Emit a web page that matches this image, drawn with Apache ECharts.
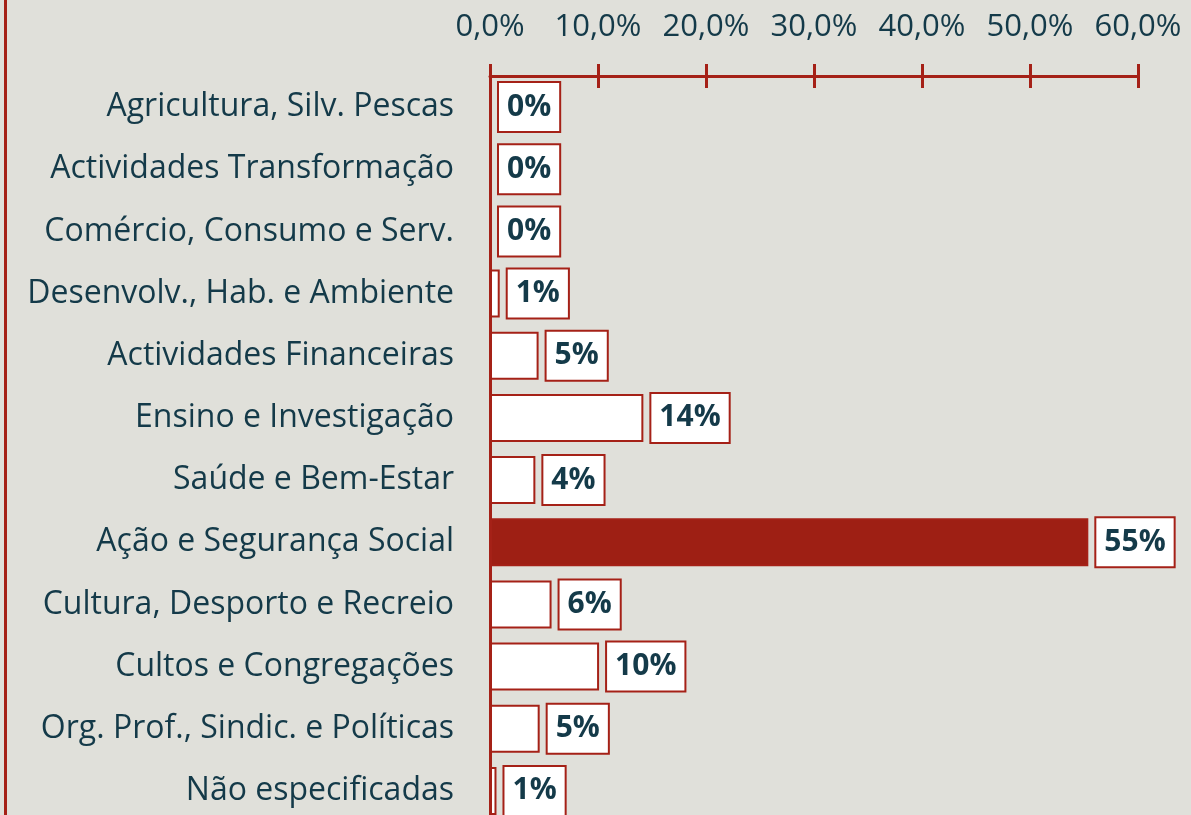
<!DOCTYPE html>
<html>
<head>
    <meta charset="utf-8">
    <title>ECharts</title>
    <script src="https://cdn.jsdelivr.net/npm/echarts@6/dist/echarts.min.js"></script>
    <style>
        html, body { margin: 0; padding: 0; background: #e0e0da; }
    </style>
</head>
<body>
    <div id="main" style="width: 1191px;height:815px;"></div>
    <script type="text/javascript">
        // categorias (de cima para baixo)
        var categories = [
            'Agricultura, Silv. Pescas',
            'Actividades Transformação',
            'Comércio, Consumo e Serv.',
            'Desenvolv., Hab. e Ambiente',
            'Actividades Financeiras',
            'Ensino e Investigação',
            'Saúde e Bem-Estar',
            'Ação e Segurança Social',
            'Cultura, Desporto e Recreio',
            'Cultos e Congregações',
            'Org. Prof., Sindic. e Políticas',
            'Não especificadas'
        ];
        // percentagens
        var values = [0, 0, 0, 0.9, 4.5, 14.2, 4.2, 55.4, 5.7, 10.1, 4.6, 0.6];
        var labels = ['0%', '0%', '0%', '1%', '5%', '14%', '4%', '55%', '6%', '10%', '5%', '1%'];
        var xTicks = [0, 10, 20, 30, 40, 50, 60];
        var highlight = 'Ação e Segurança Social';

        var red = '#a52117';
        var ink = '#143a49';
        var font = '"Open Sans", sans-serif';

        var myChart = echarts.init(document.getElementById('main'));

        var seriesData = values.map(function (v, i) {
            return {
                value: v,
                itemStyle: {
                    color: categories[i] === highlight ? '#9e1f14' : '#ffffff'
                }
            };
        });

        var option = {
            backgroundColor: '#e0e0da',
            animation: false,
            grid: { left: 490, right: 53, top: 76, height: 746, outerBoundsMode: 'none' },
            graphic: [{
                type: 'rect',
                shape: { x: 4, y: 0, width: 3, height: 815 },
                style: { fill: red }
            }],
            xAxis: [{
                type: 'value',
                position: 'top',
                min: xTicks[0],
                max: xTicks[xTicks.length - 1],
                interval: 10,
                splitLine: { show: false },
                axisLine: { show: true, lineStyle: { color: red, width: 3 } },
                axisTick: { show: true, length: 12, lineStyle: { color: red, width: 3 } },
                axisLabel: {
                    margin: 33,
                    fontSize: 31,
                    fontFamily: font,
                    color: ink,
                    formatter: function (v) { return v.toFixed(1).replace('.', ',') + '%'; }
                }
            }, {
                // ticks para baixo (atravessam a linha do eixo)
                type: 'value',
                position: 'top',
                min: xTicks[0],
                max: xTicks[xTicks.length - 1],
                interval: 10,
                splitLine: { show: false },
                axisLine: { show: false },
                axisTick: { show: true, inside: true, length: 12, lineStyle: { color: red, width: 3 } },
                axisLabel: { show: false }
            }],
            yAxis: {
                type: 'category',
                inverse: true,
                data: categories,
                axisLine: { show: true, lineStyle: { color: red, width: 3 } },
                axisTick: { show: false },
                axisLabel: {
                    margin: 36,
                    fontSize: 32,
                    fontFamily: font,
                    color: ink
                }
            },
            series: [{
                type: 'bar',
                barWidth: 48,
                data: seriesData,
                itemStyle: { borderColor: red, borderWidth: 2 },
                label: {
                    show: true,
                    position: 'right',
                    distance: 8,
                    fontSize: 30,
                    fontWeight: 'bold',
                    fontFamily: font,
                    color: ink,
                    backgroundColor: '#ffffff',
                    borderColor: red,
                    borderWidth: 2,
                    padding: [10, 8, 8, 8],
                    formatter: function (p) { return labels[p.dataIndex]; }
                }
            }]
        };

        myChart.setOption(option);
    </script>
</body>
</html>
